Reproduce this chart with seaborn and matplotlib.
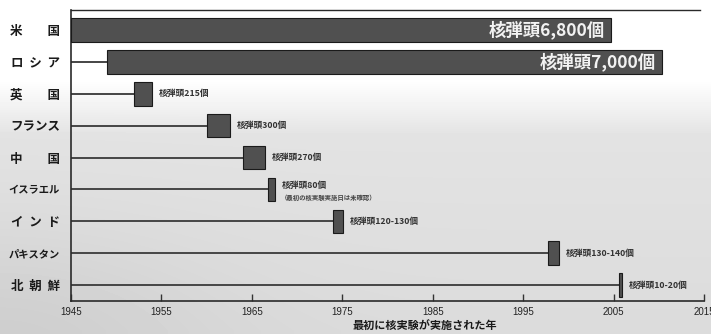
import numpy as np
import pandas as pd
import matplotlib
matplotlib.use("Agg")
import matplotlib.pyplot as plt
import seaborn as sns

# ---- data -------------------------------------------------------------
countries = ["米　　国", "ロ  シ  ア", "英　　国", "フランス", "中　　国",
             "イスラエル", "イ  ン  ド", "パキスタン", "北  朝  鮮"]
first_test = [1945, 1949, 1952, 1960, 1964, 1966.8, 1974, 1997.8, 2005.6]
box_years = [59.7, 61.4, 2.0, 2.6, 2.5, 0.8, 1.1, 1.2, 0.35]
warheads = ["核弾頭6,800個", "核弾頭7,000個", "核弾頭215個", "核弾頭300個",
            "核弾頭270個", "核弾頭80個", "核弾頭120-130個", "核弾頭130-140個",
            "核弾頭10-20個"]
israel_note = "（最初の核実験実施日は未確認）"
year_ticks = [1945, 1955, 1965, 1975, 1985, 1995, 2005, 2015]
x_title = "最初に核実験が実施された年"

# ---- style -------------------------------------------------------------
sns.set_theme(style="white")
plt.rcParams["font.family"] = ["Noto Sans CJK JP", "DejaVu Sans"]

fig = plt.figure(figsize=(7.11, 3.34), dpi=100)

# background gradient (white top, light grey lower part)
H, W = 334, 711
yy = np.arange(H)[:, None].astype(float)
xx = np.arange(W)[None, :].astype(float)
t = np.clip((yy - 80) / 55, 0, 1)
base = 1 - 0.11 * t - 0.03 * np.clip((yy - 130) / 200, 0, 1)
corner = 0.05 * np.exp(-((xx / 220) ** 2 + ((H - yy) / 110) ** 2))
img = np.clip(base - corner * t, 0, 1) + 0 * xx
bg = fig.add_axes([0, 0, 1, 1], zorder=-10)
bg.imshow(img, cmap="gray", vmin=0, vmax=1, aspect="auto")
bg.axis("off")

ax = fig.add_axes([71 / 711, 33 / 334, 633 / 711, 291 / 334])
ax.patch.set_alpha(0)

df = pd.DataFrame({"country": countries, "start": first_test, "span": box_years})

# stems from 1945 to the first test
ax.hlines(y=np.arange(len(countries)), xmin=1945, xmax=df["start"],
          color="#454545", lw=1.4, zorder=2)

sns.barplot(data=df, x="span", y="country", orient="h",
            left=df["start"].to_numpy(), width=0.74, color="#505050",
            saturation=1, edgecolor="#1a1a1a", linewidth=0.8,
            errorbar=None, ax=ax, zorder=3)

ends = df["start"] + df["span"]
for i, (lab, e) in enumerate(zip(warheads, ends)):
    if i < 2:
        ax.annotate(lab, (e, i), xytext=(-4.5, 0), textcoords="offset points",
                    ha="right", va="center", fontsize=12.5, weight="bold",
                    color="#f2f2f2", zorder=5)
    elif countries[i] == "イスラエル":
        ax.annotate(lab, (e, i), xytext=(4.5, 2.6), textcoords="offset points",
                    ha="left", va="center", fontsize=6.3, weight="bold",
                    color="#333333", zorder=5)
        ax.annotate(israel_note, (e, i), xytext=(4.0, -5.8), textcoords="offset points",
                    ha="left", va="center", fontsize=4.6, weight="bold",
                    color="#444444", zorder=5)
    else:
        ax.annotate(lab, (e, i), xytext=(4.5, 0), textcoords="offset points",
                    ha="left", va="center", fontsize=6.3, weight="bold",
                    color="#333333", zorder=5)

ax.set_xlim(1945, 2015)
ax.set_ylim(8.5, -0.63)
ax.set_xticks(year_ticks)
ax.set_xticklabels([str(y) for y in year_ticks], family="Liberation Sans",
                   fontsize=7, color="#222222")
ax.tick_params(axis="x", direction="in", length=5, width=1, color="#333333",
               pad=4, bottom=True)
ax.tick_params(axis="y", length=0, pad=8)
for tl in ax.get_yticklabels():
    n = len(tl.get_text())
    tl.set_fontsize(7.4 if n == 5 else 9)
    tl.set_fontweight("bold")
    tl.set_color("#1a1a1a")

ax.set_ylabel("")
ax.set_xlabel(x_title, fontsize=8, weight="bold", color="#1a1a1a")
ax.xaxis.set_label_coords(0.559, -0.066)

for side in ["left", "bottom", "top"]:
    ax.spines[side].set_visible(True)
    ax.spines[side].set_color("#2a2a2a")
ax.spines["right"].set_visible(False)
ax.spines["left"].set_linewidth(1.2)
ax.spines["bottom"].set_linewidth(1.2)
ax.spines["top"].set_linewidth(1.0)
ax.spines["top"].set_bounds(1945, 2014.6)
ax.grid(False)

fig.savefig("out.png", dpi=100)
